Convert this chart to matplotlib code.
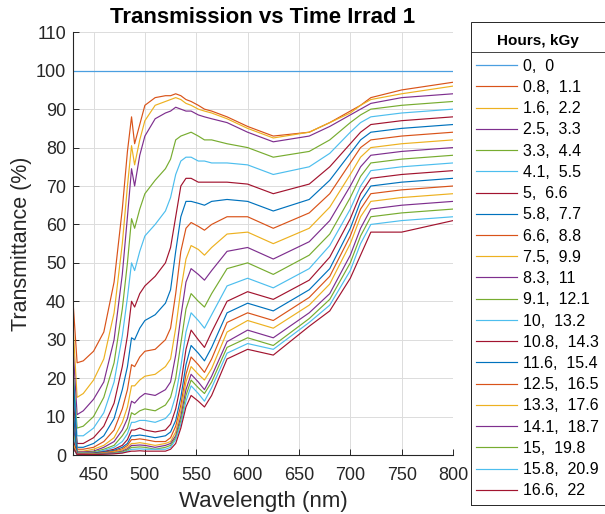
import matplotlib
matplotlib.use("Agg")
import matplotlib.pyplot as plt
from matplotlib.lines import Line2D
from matplotlib.patches import Rectangle

plt.rcParams['font.family'] = ['Liberation Sans', 'DejaVu Sans']

# ---------------- data ----------------
wavelength = [430, 434, 440, 450, 460, 470, 478, 483, 487, 490, 495, 500, 510, 520, 525,
              530, 535, 540, 545, 552, 558, 565, 580, 600, 625, 660, 680, 700, 710, 720,
              750, 800]

ref_wavelength = [430, 800]
s00 = [100, 100]

s01 = [40, 24, 24.5, 27, 32, 45, 64, 79, 88, 81, 86, 91, 93, 93.5, 93.5, 94, 93.5, 92.5, 92, 91, 90, 89.5, 88, 85.5, 83, 84, 86.5, 89.5, 91, 93, 95, 97]
s02 = [34, 15, 16, 19.5, 25, 37, 55, 70, 80.5, 75.5, 82, 87, 91, 92, 92.5, 93, 92.5, 91.5, 91, 90, 89.5, 89, 87.5, 85, 82.5, 84, 86.5, 89, 91, 92.5, 94, 96]
s03 = [28, 10.5, 11.5, 14.5, 19, 30, 47, 62, 74.5, 70, 78, 83, 87.5, 89, 89.5, 90.5, 90, 89.5, 89.5, 88.5, 88, 87.5, 86.5, 84, 81.5, 83, 85.5, 88.5, 90, 91.5, 93, 94]
s04 = [22, 7, 7.5, 10, 15, 24, 38, 50, 61.5, 59, 64, 68, 71.5, 74.5, 77, 82, 83, 83.5, 84, 83, 82, 82, 81, 80, 77.5, 79, 82, 86.5, 88.5, 90, 91, 92]
s05 = [20, 5, 5, 7, 11, 19, 31, 41, 50, 48, 53, 57, 60, 63.5, 67, 73, 76.5, 77.5, 77.5, 76.5, 76.5, 76, 76, 75.5, 73, 75, 78.5, 84, 86.5, 88, 89, 90]
s06 = [15, 3, 3, 4.5, 7.5, 13.5, 23, 31, 40, 38.5, 42, 44, 46.5, 50, 54, 62, 70, 72, 72, 71, 71, 71, 71, 70.5, 68, 70.5, 75, 81, 84, 86, 87, 88]
s07 = [22, 2, 2, 3, 5, 9.5, 17, 23, 30.5, 30, 33, 35, 36.5, 39.5, 43, 53, 62, 66, 66, 65.5, 65, 66, 66.5, 66, 63.5, 66.5, 71.5, 78.5, 82, 84, 85, 86]
s08 = [12, 1.5, 1.5, 2, 3.5, 6.5, 12, 17, 23.5, 23, 25.5, 27, 27.5, 30, 33, 42, 53, 59, 60.5, 59.5, 58.5, 60, 62, 62, 59, 63, 68, 76, 80, 82, 83, 84]
s09 = [10, 1, 1, 1.5, 2.5, 4.5, 8.5, 12.5, 18, 18, 19.5, 20.5, 21, 23, 25, 33, 43, 51, 54.5, 53.5, 52, 54, 57.5, 58, 55, 59, 64.5, 73, 77.5, 80, 81, 82]
s10 = [8, 0.8, 0.8, 1, 2, 3.5, 6.5, 9.5, 14, 13.5, 15, 16, 15.5, 17, 19, 26, 36, 45, 48.5, 47, 45.5, 48, 53, 54, 51, 55.5, 61, 70, 75, 78, 79, 80]
s11 = [6, 0.6, 0.6, 0.8, 1.5, 2.5, 5, 7, 11, 10.5, 11.5, 12, 11.5, 13, 15, 20, 29, 38, 42, 40, 38.5, 42, 48.5, 50, 47, 52, 57.5, 67, 72.5, 76, 77, 78]
s12 = [5, 0.5, 0.5, 0.6, 1.2, 2, 3.5, 5.5, 8.5, 8.5, 9, 9, 8.5, 9.5, 11, 15.5, 23, 32, 37, 35, 33, 36.5, 44, 46, 43.5, 48.5, 54.5, 64, 70, 74, 75, 76]
s13 = [4, 0.4, 0.4, 0.5, 0.9, 1.5, 2.5, 4, 6.5, 6.5, 7, 6.5, 6, 6.5, 8, 12, 18.5, 27.5, 32.5, 30, 28, 32, 40, 42.5, 40.5, 45.5, 51.5, 61.5, 68, 72, 73, 74]
s14 = [12, 0.3, 0.3, 0.4, 0.8, 1.2, 2, 3, 5, 5, 5.2, 5, 4.5, 5, 6, 9, 15, 23.5, 28.5, 26.5, 24.5, 28, 37, 39.5, 37.5, 43, 48.5, 59, 66, 70, 71, 72]
s15 = [3, 0.3, 0.3, 0.3, 0.6, 1, 1.6, 2.5, 4, 4, 4.2, 4, 3.5, 3.5, 4.5, 7.5, 13, 21, 25.5, 23.5, 21.5, 25, 34.5, 37, 35, 41, 46.5, 57, 64, 68, 69, 70]
s16 = [3, 0.2, 0.2, 0.3, 0.5, 0.8, 1.3, 2, 3, 3, 3.2, 3, 2.5, 3, 3.5, 6, 11.5, 19, 23, 21, 19.5, 22.5, 32, 35, 33, 39, 44.5, 55, 62, 66, 67, 68]
s17 = [2, 0.2, 0.2, 0.2, 0.4, 0.6, 1, 1.6, 2.5, 2.5, 2.6, 2.5, 2, 2.5, 3, 5, 10, 17, 21, 19, 17, 20.5, 29.5, 32.5, 30.5, 37, 42, 52, 59, 64, 65, 66]
s18 = [2, 0.1, 0.1, 0.2, 0.3, 0.5, 0.8, 1.3, 2, 2, 2.1, 2, 1.5, 2, 2.5, 4.5, 9, 15.5, 19.5, 17.5, 16, 19, 28, 30.5, 28.5, 35.5, 40.5, 50, 57, 62, 63, 64]
s19 = [2, 0.1, 0.1, 0.1, 0.2, 0.4, 0.6, 1, 1.5, 1.5, 1.6, 1.5, 1.5, 1.5, 2, 4, 8, 14, 18, 16, 14, 17.5, 26.5, 29, 27.5, 34.5, 39, 48, 55, 60, 61, 62]
s20 = [2, 0.1, 0.1, 0.1, 0.2, 0.3, 0.5, 0.8, 1, 1, 1.1, 1, 1, 1, 1.5, 3, 7, 12.5, 15.5, 14, 12.5, 15.5, 25, 27.5, 26, 33.5, 37.5, 46, 52, 58, 58, 61]

labels = ['0,  0', '0.8,  1.1', '1.6,  2.2', '2.5,  3.3', '3.3,  4.4', '4.1,  5.5',
          '5,  6.6', '5.8,  7.7', '6.6,  8.8', '7.5,  9.9', '8.3,  11', '9.1,  12.1',
          '10,  13.2', '10.8,  14.3', '11.6,  15.4', '12.5,  16.5', '13.3,  17.6',
          '14.1,  18.7', '15,  19.8', '15.8,  20.9', '16.6,  22']

x_ticks = [450, 500, 550, 600, 650, 700, 750, 800]
y_ticks = [0, 10, 20, 30, 40, 50, 60, 70, 80, 90, 100, 110]

series = [s01, s02, s03, s04, s05, s06, s07, s08, s09, s10, s11, s12, s13, s14,
          s15, s16, s17, s18, s19, s20]

matlab_colors = ['#0072BD', '#D95319', '#EDB120', '#7E2F8E', '#77AC30', '#4DBEEE', '#A2142F']

W, H = 605, 514

# ---------------- figure ----------------
fig = plt.figure(figsize=(6.05, 5.14), dpi=100)
ax = fig.add_axes([73 / W, 1 - 455 / H, 380 / W, 422.7 / H])

handles = []
h, = ax.plot(ref_wavelength, s00, color='#4a9fe0', lw=0.9)
handles.append(h)
for i, s in enumerate(series, start=1):
    h, = ax.plot(wavelength, s, color=matlab_colors[i % 7], lw=0.85)
    handles.append(h)

ax.set_xlim(430, 800)
ax.set_ylim(0, 110)
ax.set_xticks(x_ticks)
ax.set_yticks(y_ticks)
ax.grid(True, color='#dcdcdc', lw=0.7)
ax.set_axisbelow(True)
for side in ['top', 'right']:
    ax.spines[side].set_visible(False)
for side in ['left', 'bottom']:
    ax.spines[side].set_color('#262626')
    ax.spines[side].set_linewidth(0.8)
ax.tick_params(direction='in', length=4, width=0.7, colors='#262626', labelsize=13, pad=5)
ax.tick_params(axis='x', pad=9)

ax.set_xlabel('Wavelength (nm)', fontsize=16, color='#262626', labelpad=5)
ax.set_ylabel('Transmittance (%)', fontsize=15.5, color='#262626', labelpad=3)
ax.set_title('Transmission vs Time Irrad 1', fontsize=16, fontweight='bold', pad=7)

# legend box drawn by hand (MATLAB style with title band)
box_top, box_bot, box_left = 22, 505, 471
fig.patches.append(Rectangle((box_left / W, 1 - box_bot / H), (W + 10 - box_left) / W,
                             (box_bot - box_top) / H, transform=fig.transFigure,
                             fill=False, edgecolor='#262626', lw=0.7))
fig.lines.append(Line2D([box_left / W, 1.0], [1 - 52 / H, 1 - 52 / H],
                        transform=fig.transFigure, color='#262626', lw=0.6))
fig.text(538 / W, 1 - 41 / H, 'Hours, kGy', fontsize=11, fontweight='bold',
         ha='center', va='center')

leg = fig.legend(handles, labels, loc='upper left', bbox_to_anchor=(box_left / W, 1 - 54 / H),
                 fontsize=11.5, frameon=False, handlelength=2.6,
                 handletextpad=0.35, labelspacing=0.39, borderpad=0.3, borderaxespad=0)

fig.savefig('out.png', dpi=100)
